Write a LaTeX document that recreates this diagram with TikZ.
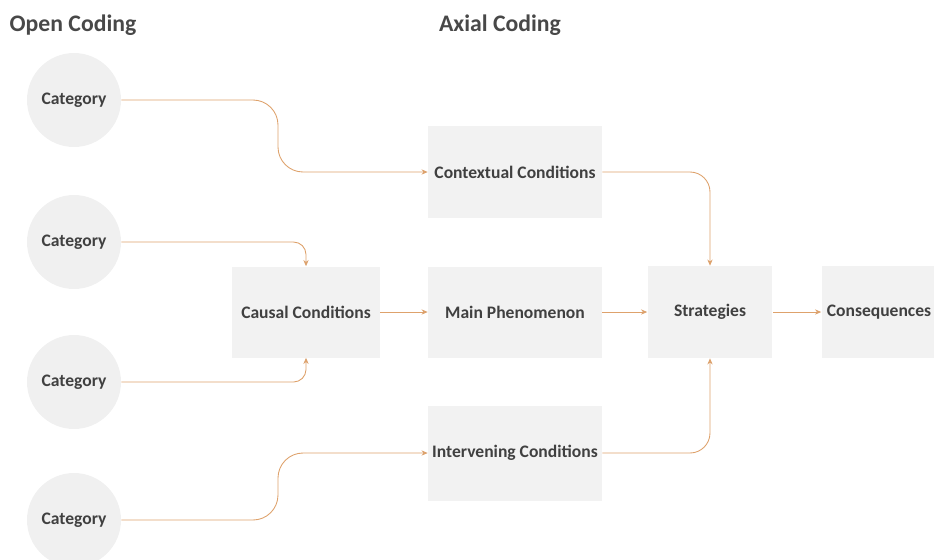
\documentclass[tikz,border=0pt]{standalone}
\usepackage{fontspec}
\setmainfont{Carlito}
\usetikzlibrary{arrows.meta}
\definecolor{boxgray}{RGB}{242, 242, 242}
\definecolor{circgray}{RGB}{240, 240, 240}
\definecolor{inkgray}{RGB}{64, 64, 64}
\definecolor{headgray}{RGB}{72, 72, 72}
\definecolor{amber}{RGB}{222, 162, 108}

\tikzset{
  category/.style={circle, fill=circgray, minimum size=1.88cm, inner sep=0pt,
                   text=inkgray, font=\fontsize{10}{12}\selectfont\bfseries},
  codebox/.style={rectangle, fill=boxgray, inner sep=0pt,
                  text=inkgray, font=\fontsize{10}{12}\selectfont\bfseries},
  heading/.style={text=headgray, font=\fontsize{13.5}{16}\selectfont\bfseries},
  flow/.style={draw=amber, line width=0.5pt, rounded corners=0.4cm,
               -{Stealth[length=3.5pt,width=3pt,fill=amber!60!black]}}
}

\begin{document}
\begin{tikzpicture}[x=0.02cm, y=-0.02cm]
            \useasboundingbox (0,0) rectangle (934,559);
            \node[heading]                                                  (open)  at ( 73, 25) {Open Coding};
            \node[heading]                                                  (axial) at (500, 25) {Axial Coding};
            \node[category]                                                 (c1)    at ( 74,100) {Category};
            \node[category]                                                 (c2)    at ( 74,242) {Category};
            \node[category]                                                 (c3)    at ( 74,382) {Category};
            \node[category]                                                 (c4)    at ( 74,520) {Category};
            \node[codebox, minimum width=3.48cm, minimum height=1.86cm]     (ctx)   at (515,172) {Contextual Conditions};
            \node[codebox, minimum width=2.96cm, minimum height=1.82cm]     (cau)   at (306,312) {Causal Conditions};
            \node[codebox, minimum width=3.48cm, minimum height=1.82cm]     (main)  at (515,312) {Main Phenomenon};
            \node[codebox, minimum width=2.50cm, minimum height=1.84cm]     (strat) at (710,312) {Strategies};
            \node[codebox, minimum width=2.30cm, minimum height=1.84cm]     (cons)  at (879,312) {Consequences};
            \node[codebox, minimum width=3.48cm, minimum height=1.90cm]     (int)   at (515,453) {Intervening Conditions};
            % open coding to axial coding
            \draw[flow, rounded corners=0.5cm] (c1.east) -- (278,100) -- (278,172) -- (ctx.west);
            \draw[flow, rounded corners=0.25cm] (c2.east) -| (cau.north);
            \draw[flow, rounded corners=0.25cm] (c3.east) -| (cau.south);
            \draw[flow, rounded corners=0.5cm] (c4.east) -- (278,520) -- (278,453) -- (int.west);
            % axial coding chain
            \draw[flow] (cau)   -- (main);
            \draw[flow] (main)  -- (strat);
            \draw[flow] (strat) -- (cons);
            \draw[flow] (ctx.east) -| (strat.north);
            \draw[flow] (int.east) -| (strat.south);
\end{tikzpicture}
\end{document}
